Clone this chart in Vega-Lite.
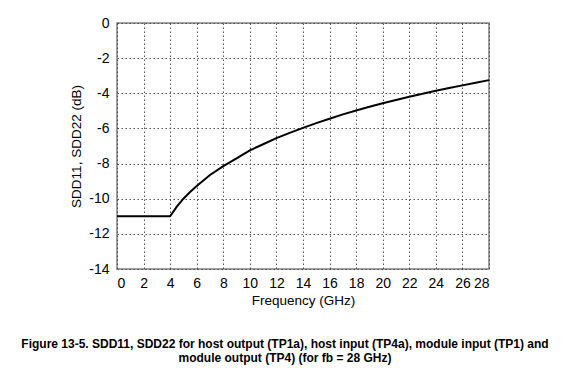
{
  "$schema": "https://vega.github.io/schema/vega-lite/v6.json",
  "width": 372,
  "height": 246,
  "autosize": {"type": "none"},
  "padding": {"left": 117, "top": 23, "right": 82, "bottom": 103},
  "background": "white",
  "title": {
    "text": ["Figure 13-5. SDD11, SDD22 for host output (TP1a), host input (TP4a), module input (TP1) and", "module output (TP4) (for fb = 28 GHz)"],
    "orient": "bottom",
    "anchor": "middle",
    "frame": "group",
    "dx": -18,
    "offset": 32,
    "font": "Liberation Sans",
    "fontSize": 12,
    "fontWeight": "bold",
    "lineHeight": 14,
    "color": "#000000"
  },
  "config": {
    "view": {"stroke": "#808080", "strokeWidth": 1.5},
    "axis": {
      "labelFont": "Liberation Sans",
      "titleFont": "Liberation Sans",
      "labelFontSize": 14,
      "titleFontSize": 13.5,
      "titleFontWeight": "normal",
      "labelColor": "#000000",
      "titleColor": "#000000",
      "domain": false,
      "ticks": false,
      "labelExpr": "'' + datum.value",
      "gridColor": "#444444",
      "gridDash": [1.5, 2.5],
      "gridWidth": 1,
      "gridOpacity": 0.9
    }
  },
  "data": {
    "values": [
      {"f": 0, "sdd": -11.0},
      {"f": 4, "sdd": -11.0},
      {"f": 4.5, "sdd": -10.45},
      {"f": 5, "sdd": -10.0},
      {"f": 5.5, "sdd": -9.62},
      {"f": 6, "sdd": -9.28},
      {"f": 7, "sdd": -8.65},
      {"f": 8, "sdd": -8.15},
      {"f": 9, "sdd": -7.7},
      {"f": 10, "sdd": -7.25},
      {"f": 11, "sdd": -6.9},
      {"f": 12, "sdd": -6.55},
      {"f": 13, "sdd": -6.25},
      {"f": 14, "sdd": -5.97},
      {"f": 15, "sdd": -5.7},
      {"f": 16, "sdd": -5.45},
      {"f": 17, "sdd": -5.2},
      {"f": 18, "sdd": -4.98},
      {"f": 19, "sdd": -4.77},
      {"f": 20, "sdd": -4.57},
      {"f": 21, "sdd": -4.38},
      {"f": 22, "sdd": -4.2},
      {"f": 23, "sdd": -4.03},
      {"f": 24, "sdd": -3.86},
      {"f": 25, "sdd": -3.7},
      {"f": 26, "sdd": -3.55},
      {"f": 27, "sdd": -3.4},
      {"f": 28, "sdd": -3.25}
    ]
  },
  "mark": {"type": "line", "color": "#000000", "strokeWidth": 2},
  "encoding": {
    "x": {
      "field": "f",
      "type": "quantitative",
      "scale": {"domain": [0, 28], "nice": false},
      "axis": {"values": [0,2,4,6,8,10,12,14,16,18,20,22,24,26,28], "title": "Frequency (GHz)", "labelPadding": 7, "titlePadding": 3}
    },
    "y": {
      "field": "sdd",
      "type": "quantitative",
      "scale": {"domain": [-14, 0], "nice": false},
      "axis": {"values": [-14,-12,-10,-8,-6,-4,-2,0], "title": "SDD11, SDD22 (dB)", "labelPadding": 8, "titlePadding": 5}
    }
  }
}
